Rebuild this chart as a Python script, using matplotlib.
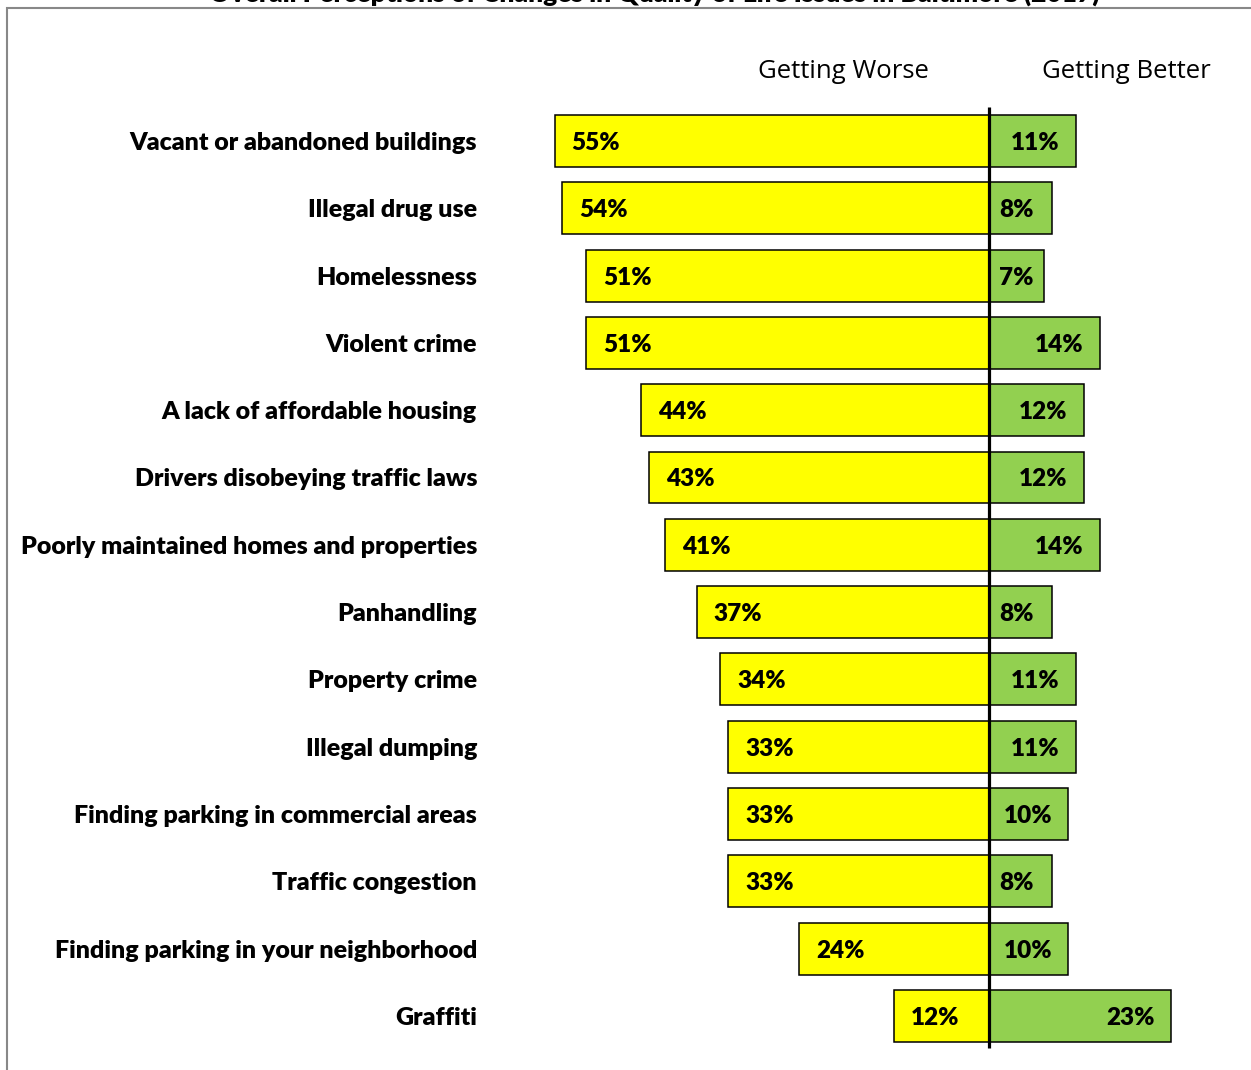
import matplotlib.pyplot as plt
from matplotlib.patches import Rectangle

categories = [
    "Vacant or abandoned buildings",
    "Illegal drug use",
    "Homelessness",
    "Violent crime",
    "A lack of affordable housing",
    "Drivers disobeying traffic laws",
    "Poorly maintained homes and properties",
    "Panhandling",
    "Property crime",
    "Illegal dumping",
    "Finding parking in commercial areas",
    "Traffic congestion",
    "Finding parking in your neighborhood",
    "Graffiti",
]
worse = [55, 54, 51, 51, 44, 43, 41, 37, 34, 33, 33, 33, 24, 12]
better = [11, 8, 7, 14, 12, 12, 14, 8, 11, 11, 10, 8, 10, 23]

W, H = 1251, 1070
px_per_pct = 7.9
x0 = 989          # pixel position of the zero line
row0, row_step = 141, 67.3

fig = plt.figure(figsize=(W / 100, H / 100), dpi=100)
ax = fig.add_axes([0, 0, 1, 1])
ax.set_xlim(-x0 / px_per_pct, (W - x0) / px_per_pct)
ax.set_ylim((H - row0) / row_step, -row0 / row_step)
ax.axis("off")

yellow = "#FFFF00"
green = "#92D050"
bh = 0.77
px = 1 / px_per_pct
dy = 2 / row_step   # nudge labels down a touch
cat_font = dict(family=["Lato", "DejaVu Sans"], fontweight="heavy", fontsize=18)
pct_font = dict(family=["Lato", "DejaVu Sans"], fontweight="heavy", fontsize=17.5)

for i, (cat, w, b) in enumerate(zip(categories, worse, better)):
    ax.barh(i, -w, height=bh, color=yellow, edgecolor="black", linewidth=1.1, zorder=2)
    ax.barh(i, b, height=bh, color=green, edgecolor="black", linewidth=1.1, zorder=2)
    ax.text(-w + 17 * px, i + dy, f"{w}%", ha="left", va="center", **pct_font, zorder=4)
    # label sits inside the end of the green bar, pushed right if the bar is short
    tx = b - 16 * px
    if tx - 46 * px < 10 * px:
        ax.text(10 * px, i + dy, f"{b}%", ha="left", va="center", **pct_font, zorder=4)
    else:
        ax.text(tx, i + dy, f"{b}%", ha="right", va="center", **pct_font, zorder=4)
    ax.text((477 - x0) * px, i + dy, cat, ha="right", va="center", **cat_font)

# zero line
ax.plot([0, 0], [(107 - row0) / row_step, (1048 - row0) / row_step],
        color="black", lw=2.3, zorder=3, solid_capstyle="butt")

hdr = dict(family=["Open Sans", "DejaVu Sans"], fontsize=18.5, ha="center", va="center")
ax.text((843 - x0) * px, (72 - row0) / row_step, "Getting Worse", **hdr)
ax.text((1126 - x0) * px, (72 - row0) / row_step, "Getting Better", **hdr)

# chart frame
fig.patches.append(Rectangle((7 / W, -0.1), 1.2, 1 - 8 / H + 0.1, transform=fig.transFigure,
                             fill=False, edgecolor="#888888", lw=1.5))
fig.text(654 / W, 1 - 2 / H,
         "Overall Perceptions of Changes in Quality of Life Issues in Baltimore (2017)",
         ha="center", va="baseline", fontweight="heavy", fontsize=19,
         family=["Lato", "DejaVu Sans"])

fig.savefig("out.png", dpi=100)
